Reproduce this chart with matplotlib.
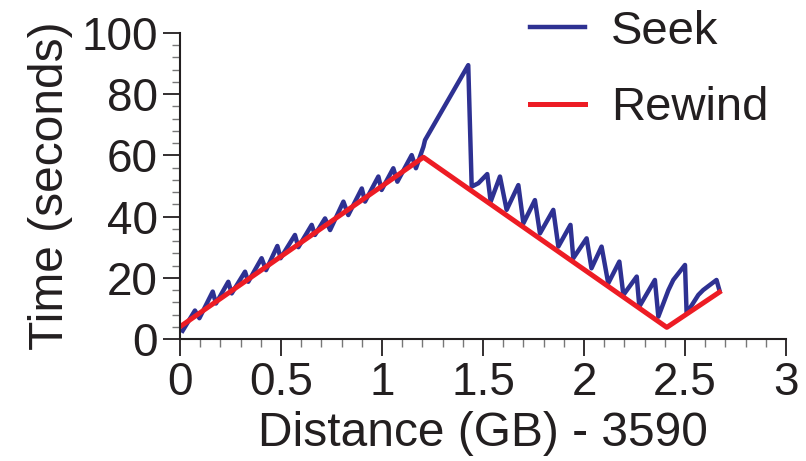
import matplotlib
matplotlib.use("Agg")
import matplotlib.pyplot as plt
from matplotlib.ticker import MultipleLocator

plt.rcParams['font.family'] = ['Liberation Sans', 'DejaVu Sans']

# seek times (sawtooth)
seek_x = [0.013, 0.074, 0.096, 0.162, 0.178, 0.239, 0.256, 0.322, 0.338, 0.404,
          0.426, 0.482, 0.498, 0.569, 0.586, 0.652, 0.668, 0.718, 0.743, 0.809,
          0.833, 0.900, 0.916, 0.982, 0.998, 1.056, 1.076, 1.147, 1.168, 1.205,
          1.213, 1.427, 1.444, 1.477, 1.521, 1.538, 1.584, 1.617, 1.675, 1.700,
          1.757, 1.782, 1.848, 1.873, 1.933, 1.947, 2.013, 2.037, 2.087, 2.120,
          2.175, 2.195, 2.261, 2.274, 2.351, 2.368, 2.418, 2.442, 2.500, 2.508,
          2.566, 2.590, 2.656, 2.670]
seek_y = [2.7, 9.3, 6.8, 15.5, 11.6, 18.7, 14.9, 22.0, 18.7, 26.4,
          22.5, 30.4, 26.4, 34.0, 30.0, 37.3, 34.0, 39.4, 35.6, 44.9,
          40.5, 49.2, 44.9, 53.1, 48.7, 55.8, 51.4, 60.1, 55.8, 62.8,
          65.0, 89.5, 49.8, 50.9, 53.9, 44.9, 53.1, 42.2, 50.3, 37.8,
          45.4, 34.5, 42.2, 30.2, 37.3, 26.4, 32.9, 23.1, 30.2, 18.2,
          25.3, 14.4, 20.4, 10.6, 19.3, 7.3, 16.0, 19.3, 24.2, 8.4,
          14.4, 16.0, 19.3, 16.0]

# rewind times
rewind_x = [0.0, 1.205, 2.41, 2.67]
rewind_y = [4.0, 59.4, 3.8, 15.3]

W, H = 806, 461
fig = plt.figure(figsize=(W / 100, H / 100), dpi=100)
ax = fig.add_axes([180 / W, 1 - 339 / H, 606 / W, 306 / H])

ax.plot(seek_x, seek_y, color='#2E3192', linewidth=3.2, label='Seek')
ax.plot(rewind_x, rewind_y, color='#ED1C24', linewidth=3.6, label='Rewind')

ax.set_xlim(0, 3)
ax.set_ylim(0, 100)
ax.xaxis.set_major_locator(MultipleLocator(0.5))
ax.xaxis.set_minor_locator(MultipleLocator(0.1))
ax.yaxis.set_major_locator(MultipleLocator(20))
ax.yaxis.set_minor_locator(MultipleLocator(4))
ax.set_xticks([0, 0.5, 1, 1.5, 2, 2.5, 3])
ax.set_xticklabels(['0', '0.5', '1', '1.5', '2', '2.5', '3'])

for s in ['top', 'right']:
    ax.spines[s].set_visible(False)
for s in ['left', 'bottom']:
    ax.spines[s].set_linewidth(1.5)
    ax.spines[s].set_color('#231F20')

ax.tick_params(which='major', direction='out', length=12, width=1.3,
               color='#231F20', labelsize=33, labelcolor='#231F20', pad=4)
ax.tick_params(which='minor', direction='out', length=6, width=1.0,
               color='#777777')

ax.set_xlabel('Distance (GB) - 3590', fontsize=34.5, color='#231F20', labelpad=4)
ax.set_ylabel('Time (seconds)', fontsize=34.5, color='#231F20', labelpad=6)

ax.legend(loc='upper left', bbox_to_anchor=(530 / W, 1 - 10 / H),
          bbox_transform=fig.transFigure, frameon=False, fontsize=34,
          handlelength=1.17, handletextpad=0.55, labelspacing=0.68,
          borderpad=0, borderaxespad=0, labelcolor='#231F20')

fig.savefig('out.png', dpi=100)
